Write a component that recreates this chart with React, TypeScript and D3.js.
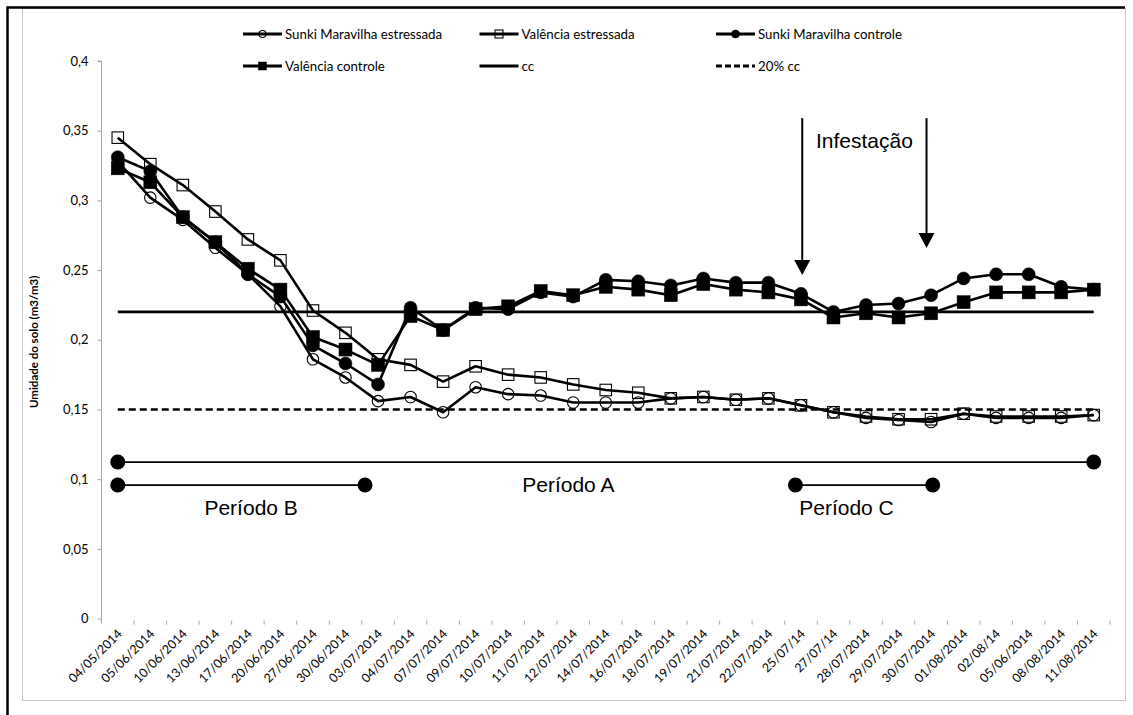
import { useEffect, useRef } from "react";
import * as d3 from "d3";

const W = 1133;
const H = 715;

const dates = [
  "04/05/2014", "05/06/2014", "10/06/2014", "13/06/2014", "17/06/2014", "20/06/2014",
  "27/06/2014", "30/06/2014", "03/07/2014", "04/07/2014", "07/07/2014", "09/07/2014",
  "10/07/2014", "11/07/2014", "12/07/2014", "14/07/2014", "16/07/2014", "18/07/2014",
  "19/07/2014", "21/07/2014", "22/07/2014", "25/07/14", "27/07/14", "28/07/2014",
  "29/07/2014", "30/07/2014", "01/08/2014", "02/08/14", "05/06/2014", "08/08/2014",
  "11/08/2014",
];

const sunkiEstressada = [
  0.328, 0.302, 0.286, 0.266, 0.247, 0.224, 0.186, 0.173, 0.156, 0.159, 0.148, 0.166,
  0.161, 0.160, 0.155, 0.155, 0.155, 0.158, 0.159, 0.157, 0.158, 0.153, 0.148, 0.144,
  0.1425, 0.141, 0.147, 0.144, 0.144, 0.144, 0.146,
];
const valenciaEstressada = [
  0.345, 0.326, 0.311, 0.292, 0.272, 0.257, 0.221, 0.205, 0.186, 0.182, 0.170, 0.181,
  0.175, 0.173, 0.168, 0.164, 0.162, 0.158, 0.159, 0.157, 0.158, 0.153, 0.148, 0.145,
  0.143, 0.143, 0.147, 0.145, 0.145, 0.145, 0.146,
];
const sunkiControle = [
  0.331, 0.321, 0.288, 0.270, 0.247, 0.231, 0.196, 0.183, 0.168, 0.223, 0.207, 0.223,
  0.222, 0.234, 0.231, 0.243, 0.242, 0.239, 0.244, 0.241, 0.241, 0.233, 0.220, 0.225,
  0.226, 0.232, 0.244, 0.247, 0.247, 0.238, 0.236,
];
const valenciaControle = [
  0.323, 0.313, 0.288, 0.270, 0.251, 0.236, 0.202, 0.193, 0.182, 0.217, 0.207, 0.222,
  0.224, 0.235, 0.232, 0.238, 0.236, 0.232, 0.240, 0.236, 0.234, 0.229, 0.216, 0.219,
  0.216, 0.219, 0.227, 0.234, 0.234, 0.234, 0.236,
];
const ccLevel = 0.22;
const cc20Level = 0.15;

const yTicks = [0, 0.05, 0.1, 0.15, 0.2, 0.25, 0.3, 0.35, 0.4];

const seriesNames = [
  "Sunki Maravilha estressada",
  "Valência estressada",
  "Sunki Maravilha controle",
  "Valência controle",
  "cc",
  "20% cc",
];

// periods: start / end / label centre in category index units, level in y units
const periods = [
  { label: "Período A", from: 0, to: 30, labelAt: 13.85, level: 0.1123 },
  { label: "Período B", from: 0, to: 7.6, labelAt: 4.1, level: 0.0958 },
  { label: "Período C", from: 20.83, to: 25.05, labelAt: 22.4, level: 0.0958 },
];
const arrows = [
  { at: 21.04, top: 0.359, tip: 0.2465 },
  { at: 24.86, top: 0.359, tip: 0.2659 },
];

const FONT = "Lato, 'Open Sans', sans-serif";
const ARIAL = "'Liberation Sans', Arial, sans-serif";
const AXIS = "#a6a6a6";

const margin = { left: 101.5, right: 1110, top: 61, bottom: 618.6 };

type Kind = "circleOpen" | "squareOpen" | "circle" | "square" | "none";

function marker(
  g: d3.Selection<SVGGElement, unknown, null, undefined>,
  kind: Kind,
  cx: number,
  cy: number,
  s: number
) {
  if (kind === "circleOpen" || kind === "circle") {
    g.append("circle")
      .attr("cx", cx).attr("cy", cy).attr("r", s / 2)
      .attr("fill", kind === "circle" ? "#000" : "none")
      .attr("stroke", "#000")
      .attr("stroke-width", kind === "circle" ? 0.5 : 1.1);
  } else if (kind === "squareOpen" || kind === "square") {
    g.append("rect")
      .attr("x", cx - s / 2).attr("y", cy - s / 2)
      .attr("width", s).attr("height", s)
      .attr("fill", kind === "square" ? "#000" : "none")
      .attr("stroke", "#000")
      .attr("stroke-width", kind === "square" ? 0.5 : 1.1);
  }
}

export default function App() {
  const svgRef = useRef<SVGSVGElement>(null);

  useEffect(() => {
    document.body.style.margin = "0";
    if (!svgRef.current) return;
    const svg = d3.select(svgRef.current);
    svg.selectAll("*").remove();

    // dates repeat (05/06/2014 twice), so the band scale is keyed by index
    const idx = dates.map((_, i) => i);
    const x = d3.scaleBand<number>().domain(idx).range([margin.left, margin.right]);
    const cx = (i: number) => (x(i) ?? 0) + x.bandwidth() / 2;
    const xi = d3
      .scaleLinear()
      .domain([0, dates.length - 1])
      .range([cx(0), cx(dates.length - 1)]);
    const y = d3.scaleLinear().domain([0, 0.4]).range([margin.bottom, margin.top]);

    // ============ FRAME ============
    svg.append("rect").attr("width", W).attr("height", H).attr("fill", "#fff");
    svg.append("rect")
      .attr("x", 22.5).attr("y", 8.5).attr("width", 1103).attr("height", 692)
      .attr("fill", "none").attr("stroke", "#c8c8c8");
    svg.append("path")
      .attr("d", "M7.5,715 L7.5,7.5 L1125,7.5")
      .attr("fill", "none").attr("stroke", "#000").attr("stroke-width", 2.5);

    const g = svg.append("g");

    // ============ AXES ============
    g.append("g")
      .attr("transform", `translate(${margin.left},0)`)
      .call(
        d3.axisLeft(y)
          .tickValues(yTicks)
          .tickSize(4)
          .tickPadding(9)
          .tickFormat((d) => d3.format(".2~f")(Number(d)).replace(".", ","))
      )
      .call((a) => a.select(".domain").attr("stroke", AXIS).attr("d", `M-4,${margin.top}H0V${margin.bottom + 5}`))
      .call((a) => a.selectAll("line").attr("stroke", AXIS))
      .call((a) => a.selectAll("text")
        .attr("font-family", FONT).attr("font-size", 13).attr("fill", "#000"));

    // x boundary ticks
    const bounds = idx.slice(1).map((i) => x(i) ?? 0).concat([margin.right]);
    g.append("g").selectAll("line").data(bounds).join("line")
      .attr("x1", (d) => d).attr("x2", (d) => d)
      .attr("y1", margin.bottom + 2).attr("y2", margin.bottom + 6)
      .attr("stroke", AXIS);

    g.append("g").selectAll("text").data(dates).join("text")
      .attr("transform", (_, i) => `translate(${cx(i) + 5},${margin.bottom + 16}) rotate(-45)`)
      .attr("text-anchor", "end")
      .attr("font-family", FONT).attr("font-size", 12.5)
      .text((d) => d);

    g.append("text")
      .attr("transform", `translate(38,${(margin.top + margin.bottom) / 2 + 2}) rotate(-90)`)
      .attr("text-anchor", "middle")
      .attr("font-family", FONT).attr("font-size", 11.5).attr("font-weight", 700)
      .text("Umidade do solo (m3/m3)");

    // ============ SERIES ============
    const series: { values: number[]; kind: Kind; size: number }[] = [
      { values: sunkiEstressada, kind: "circleOpen", size: 11.5 },
      { values: valenciaEstressada, kind: "squareOpen", size: 11.5 },
      { values: sunkiControle, kind: "circle", size: 13 },
      { values: valenciaControle, kind: "square", size: 13 },
    ];
    const line = d3.line<number>().x((_, i) => cx(i)).y((v) => y(v));

    series.forEach((s) => {
      const sg = g.append("g");
      sg.append("path")
        .attr("d", line(s.values))
        .attr("fill", "none").attr("stroke", "#000").attr("stroke-width", 2.6)
        .attr("stroke-linejoin", "round");
      s.values.forEach((v, i) => marker(sg, s.kind, cx(i), y(v), s.size));
    });

    [
      { level: ccLevel, dash: null },
      { level: cc20Level, dash: "7,4" },
    ].forEach((r) => {
      g.append("line")
        .attr("x1", xi(0)).attr("x2", xi(dates.length - 1))
        .attr("y1", y(r.level)).attr("y2", y(r.level))
        .attr("stroke", "#000").attr("stroke-width", 2.6)
        .attr("stroke-dasharray", r.dash);
    });

    // ============ ANNOTATIONS ============
    const ann = svg.append("g");
    periods.forEach((p) => {
      ann.append("line")
        .attr("x1", xi(p.from)).attr("x2", xi(p.to))
        .attr("y1", y(p.level)).attr("y2", y(p.level))
        .attr("stroke", "#000").attr("stroke-width", 1.8);
      [p.from, p.to].forEach((t) =>
        ann.append("circle").attr("cx", xi(t)).attr("cy", y(p.level)).attr("r", 7.5).attr("fill", "#000")
      );
      ann.append("text")
        .attr("x", xi(p.labelAt))
        .attr("y", y(p.level) + 30)
        .attr("text-anchor", "middle")
        .attr("font-family", ARIAL).attr("font-size", 21)
        .text(p.label);
    });

    arrows.forEach((a) => {
      const ax = xi(a.at);
      const tip = y(a.tip);
      ann.append("line")
        .attr("x1", ax).attr("x2", ax).attr("y1", y(a.top)).attr("y2", tip - 12)
        .attr("stroke", "#000").attr("stroke-width", 2);
      ann.append("path")
        .attr("d", `M${ax - 8},${tip - 15}L${ax + 8},${tip - 15}L${ax},${tip}Z`)
        .attr("fill", "#000");
    });
    ann.append("text")
      .attr("x", xi((arrows[0].at + arrows[1].at) / 2))
      .attr("y", y(arrows[0].top) + 30)
      .attr("text-anchor", "middle")
      .attr("font-family", ARIAL).attr("font-size", 21)
      .text("Infestação");

    // ============ LEGEND ============
    const legendKinds: Kind[] = ["circleOpen", "squareOpen", "circle", "square", "none", "none"];
    const legend = svg.append("g");
    seriesNames.forEach((name, i) => {
      const col = i % 3;
      const row = Math.floor(i / 3);
      const lx = 243 + col * 236.5;
      const ly = 34 + row * 32;
      const item = legend.append("g");
      item.append("line")
        .attr("x1", lx).attr("x2", lx + 39).attr("y1", ly).attr("y2", ly)
        .attr("stroke", "#000").attr("stroke-width", 3)
        .attr("stroke-dasharray", name === "20% cc" ? "6,3" : null);
      const k = legendKinds[i];
      marker(item, k, lx + 19.5, ly, k === "circleOpen" ? 7 : 8);
      item.append("text")
        .attr("x", lx + 42).attr("y", ly + 4.5)
        .attr("font-family", FONT).attr("font-size", 13.3)
        .text(name);
    });
  }, []);

  return <svg ref={svgRef} width={W} height={H} style={{ display: "block" }} />;
}
